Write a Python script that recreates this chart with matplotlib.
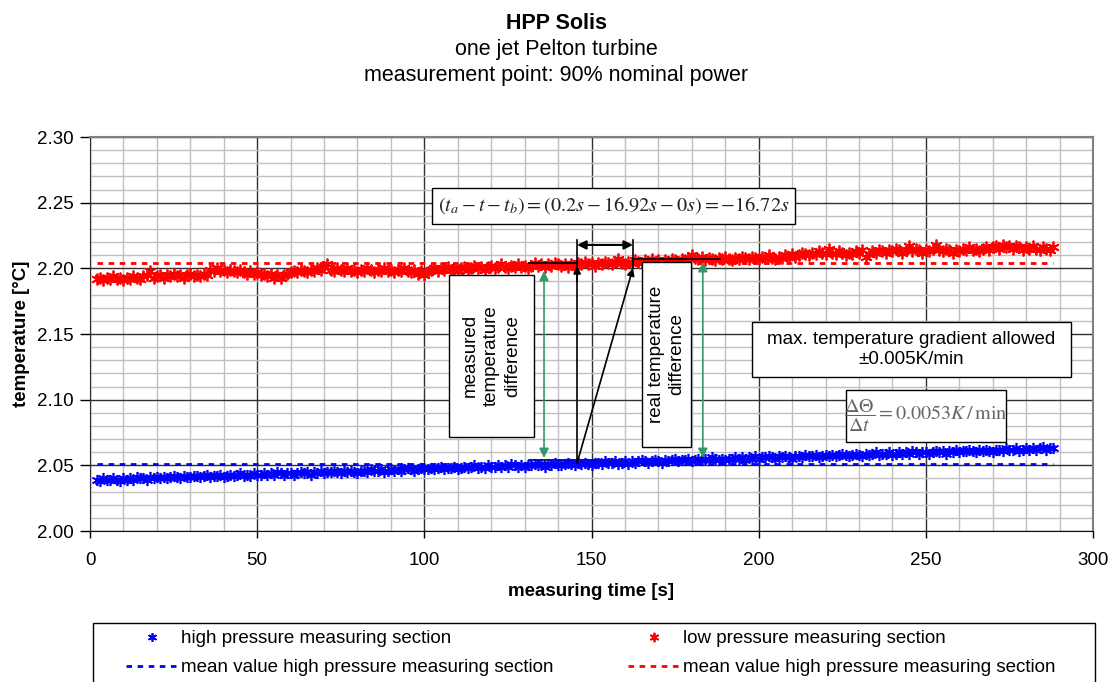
import matplotlib
matplotlib.use("Agg")
import matplotlib.pyplot as plt
import numpy as np
from matplotlib.patches import Rectangle

plt.rcParams['font.family'] = ['Liberation Sans', 'DejaVu Sans']
plt.rcParams['mathtext.fontset'] = 'stix'

# one reading per second, from 2 s to 288 s
tiempo = np.arange(2, 289)

# low pressure measuring section [°C]
baja = [2.192, 2.193, 2.191, 2.193, 2.192, 2.194, 2.192, 2.193, 2.191, 2.193,
        2.192, 2.194, 2.193, 2.192, 2.194, 2.195, 2.198, 2.193, 2.194, 2.195,
        2.193, 2.195, 2.194, 2.196, 2.194, 2.195, 2.193, 2.195, 2.196, 2.194,
        2.195, 2.194, 2.196, 2.195, 2.199, 2.198, 2.200, 2.198, 2.199, 2.197,
        2.199, 2.198, 2.197, 2.199, 2.197, 2.196, 2.198, 2.196, 2.197, 2.195,
        2.196, 2.194, 2.196, 2.193, 2.195, 2.193, 2.195, 2.196, 2.197, 2.198,
        2.197, 2.199, 2.198, 2.197, 2.199, 2.198, 2.200, 2.199, 2.201, 2.203,
        2.199, 2.198, 2.200, 2.199, 2.198, 2.200, 2.198, 2.199, 2.197, 2.199,
        2.198, 2.200, 2.199, 2.197, 2.199, 2.198, 2.200, 2.198, 2.199, 2.197,
        2.199, 2.198, 2.200, 2.198, 2.197, 2.199, 2.196, 2.198, 2.195, 2.197,
        2.199, 2.200, 2.198, 2.200, 2.199, 2.201, 2.199, 2.200, 2.198, 2.200,
        2.201, 2.199, 2.200, 2.202, 2.200, 2.201, 2.199, 2.201, 2.202, 2.200,
        2.201, 2.203, 2.201, 2.200, 2.202, 2.201, 2.203, 2.201, 2.202, 2.200,
        2.202, 2.204, 2.202, 2.203, 2.201, 2.203, 2.202, 2.204, 2.203, 2.202,
        2.203, 2.201, 2.203, 2.202, 2.204, 2.203, 2.205, 2.203, 2.204, 2.202,
        2.204, 2.203, 2.205, 2.204, 2.203, 2.205, 2.207, 2.204, 2.203, 2.205,
        2.204, 2.206, 2.205, 2.204, 2.206, 2.205, 2.207, 2.205, 2.206, 2.204,
        2.206, 2.205, 2.207, 2.206, 2.205, 2.207, 2.206, 2.208, 2.210, 2.208,
        2.207, 2.209, 2.206, 2.208, 2.207, 2.206, 2.208, 2.207, 2.209, 2.207,
        2.206, 2.208, 2.207, 2.209, 2.208, 2.207, 2.209, 2.208, 2.207, 2.209,
        2.208, 2.210, 2.208, 2.207, 2.209, 2.208, 2.210, 2.209, 2.211, 2.209,
        2.210, 2.212, 2.211, 2.210, 2.212, 2.211, 2.213, 2.212, 2.211, 2.215,
        2.212, 2.211, 2.213, 2.212, 2.210, 2.212, 2.211, 2.213, 2.212, 2.214,
        2.209, 2.211, 2.213, 2.212, 2.214, 2.213, 2.212, 2.214, 2.213, 2.215,
        2.214, 2.212, 2.214, 2.217, 2.213, 2.215, 2.214, 2.212, 2.214, 2.213,
        2.215, 2.218, 2.214, 2.213, 2.215, 2.214, 2.212, 2.214, 2.213, 2.215,
        2.214, 2.216, 2.214, 2.215, 2.213, 2.215, 2.216, 2.214, 2.216, 2.217,
        2.215, 2.218, 2.216, 2.217, 2.215, 2.217, 2.216, 2.214, 2.216, 2.215,
        2.217, 2.215, 2.214, 2.216, 2.215, 2.214, 2.216]

# high pressure measuring section [°C]
alta = [2.039, 2.038, 2.040, 2.039, 2.039, 2.040, 2.039, 2.038, 2.040, 2.039,
        2.040, 2.039, 2.041, 2.040, 2.040, 2.039, 2.041, 2.040, 2.041, 2.040,
        2.041, 2.040, 2.041, 2.042, 2.041, 2.040, 2.042, 2.041, 2.041, 2.042,
        2.042, 2.041, 2.042, 2.043, 2.041, 2.042, 2.042, 2.043, 2.041, 2.042,
        2.043, 2.042, 2.043, 2.044, 2.042, 2.043, 2.042, 2.044, 2.043, 2.043,
        2.044, 2.043, 2.044, 2.043, 2.045, 2.044, 2.043, 2.044, 2.044, 2.043,
        2.044, 2.045, 2.044, 2.045, 2.043, 2.045, 2.044, 2.046, 2.044, 2.045,
        2.045, 2.046, 2.045, 2.044, 2.046, 2.045, 2.046, 2.045, 2.044, 2.046,
        2.046, 2.045, 2.047, 2.046, 2.046, 2.047, 2.045, 2.046, 2.047, 2.046,
        2.047, 2.046, 2.047, 2.048, 2.047, 2.046, 2.047, 2.048, 2.047, 2.047,
        2.048, 2.047, 2.048, 2.049, 2.047, 2.048, 2.048, 2.049, 2.047, 2.048,
        2.049, 2.048, 2.049, 2.050, 2.048, 2.049, 2.048, 2.050, 2.049, 2.049,
        2.050, 2.049, 2.050, 2.049, 2.051, 2.050, 2.049, 2.050, 2.049, 2.050,
        2.050, 2.051, 2.050, 2.051, 2.049, 2.051, 2.050, 2.052, 2.050, 2.050,
        2.051, 2.052, 2.051, 2.050, 2.052, 2.051, 2.052, 2.051, 2.050, 2.052,
        2.052, 2.051, 2.053, 2.052, 2.052, 2.053, 2.051, 2.052, 2.053, 2.051,
        2.053, 2.052, 2.053, 2.054, 2.053, 2.052, 2.053, 2.054, 2.053, 2.052,
        2.054, 2.053, 2.054, 2.055, 2.053, 2.054, 2.054, 2.055, 2.053, 2.054,
        2.055, 2.054, 2.055, 2.054, 2.056, 2.055, 2.054, 2.055, 2.054, 2.055,
        2.055, 2.056, 2.055, 2.056, 2.054, 2.056, 2.055, 2.057, 2.055, 2.056,
        2.056, 2.057, 2.056, 2.055, 2.057, 2.056, 2.057, 2.056, 2.055, 2.057,
        2.057, 2.056, 2.058, 2.057, 2.057, 2.058, 2.056, 2.057, 2.058, 2.057,
        2.058, 2.057, 2.058, 2.059, 2.058, 2.057, 2.058, 2.059, 2.058, 2.057,
        2.059, 2.058, 2.059, 2.060, 2.058, 2.059, 2.059, 2.060, 2.058, 2.059,
        2.060, 2.059, 2.060, 2.059, 2.061, 2.060, 2.059, 2.060, 2.060, 2.059,
        2.060, 2.061, 2.060, 2.061, 2.059, 2.061, 2.060, 2.062, 2.060, 2.061,
        2.061, 2.062, 2.061, 2.060, 2.062, 2.061, 2.062, 2.061, 2.060, 2.062,
        2.062, 2.061, 2.063, 2.062, 2.062, 2.063, 2.061, 2.062, 2.063, 2.062,
        2.063, 2.062, 2.063, 2.064, 2.062, 2.063, 2.063]

media_alta = 2.051
media_baja = 2.204

asterisco = (6, 2, 0)  # Excel star marker
verde = '#339966'
fs = 13.5

fig = plt.figure(figsize=(11.13, 6.82), dpi=100)
ax = fig.add_axes([90 / 1113, 1 - 531 / 682, 1003 / 1113, 394 / 682])

ax.plot(tiempo, alta, ls='none', marker=asterisco, ms=8, mew=1.2, color='#0000ff',
        label='high pressure measuring section', zorder=4)
ax.plot(tiempo, baja, ls='none', marker=asterisco, ms=8.5, mew=1.3, color='#ff0000',
        label='low pressure measuring section', zorder=4)
ax.plot([tiempo[0], tiempo[-1]], [media_alta, media_alta], ls=(0, (2, 2)), lw=2,
        color='#0000ff', label='mean value high pressure measuring section', zorder=3)
ax.plot([tiempo[0], tiempo[-1]], [media_baja, media_baja], ls=(0, (2, 2)), lw=2,
        color='#ff0000', label='mean value high pressure measuring section', zorder=3)

ax.set_xlim(0, 300)
ax.set_ylim(2.0, 2.3)
ax.set_xticks(np.arange(0, 301, 50))
ax.set_xticks(np.arange(0, 301, 10), minor=True)
ax.set_yticks(np.arange(2.0, 2.301, 0.05))
ax.set_yticks(np.arange(2.0, 2.301, 0.01), minor=True)
ax.set_yticklabels(['%.2f' % v for v in np.arange(2.0, 2.301, 0.05)])
ax.grid(which='minor', color='#c0c0c0', lw=1, zorder=0)
ax.grid(which='major', color='#303030', lw=1, zorder=0)
ax.tick_params(which='minor', length=0)
ax.tick_params(axis='y', which='major', length=7, width=1, pad=5, labelsize=fs)
ax.tick_params(axis='x', which='major', length=5, width=1, pad=10, labelsize=fs)
ax.set_axisbelow(True)
for lado in ['top', 'right']:
    ax.spines[lado].set_color('#808080')
    ax.spines[lado].set_linewidth(1.5)
ax.spines['left'].set_color('#303030')
ax.spines['bottom'].set_color('#101010')

ax.set_xlabel('measuring time [s]', fontsize=fs, fontweight='bold', labelpad=10)
ax.set_ylabel('temperature [°C]', fontsize=fs, fontweight='bold', labelpad=5)

fig.text(0.5, 1 - 29 / 682, 'HPP Solis', ha='center', va='baseline', fontsize=15.5, fontweight='bold')
fig.text(0.5, 1 - 55 / 682, 'one jet Pelton turbine', ha='center', va='baseline', fontsize=15.5)
fig.text(0.5, 1 - 81 / 682, 'measurement point: 90% nominal power', ha='center', va='baseline', fontsize=15.5)

# annotation boxes
def caja(x0, y0, x1, y1):
    ax.add_patch(Rectangle((x0, y0), x1 - x0, y1 - y0, fc='white', ec='black', lw=1, zorder=5))

caja(102.3, 2.2338, 210.9, 2.2612)
ax.text(156.6, 2.2475, r'$\left(t_a - t - t_b\right) = \left(0.2s - 16.92s - 0s\right) = -16.72s$',
        ha='center', va='center', fontsize=14.6, color='#222222', zorder=6)

caja(107.4, 2.0716, 132.8, 2.1949)
ax.text(120.1, 2.1333, 'measured\ntemperature\ndifference', rotation=90, ha='center', va='center',
        fontsize=fs, linespacing=1.3, zorder=6)

caja(165.1, 2.0640, 179.8, 2.2048)
ax.text(172.5, 2.1344, 'real temperature\ndifference', rotation=90, ha='center', va='center',
        fontsize=fs, linespacing=1.25, zorder=6)

caja(198.0, 2.1173, 293.4, 2.1591)
ax.text(245.7, 2.1382, 'max. temperature gradient allowed\n±0.005K/min', ha='center', va='center',
        fontsize=fs, linespacing=1.3, zorder=6)

caja(226.1, 2.0678, 274.0, 2.1074)
ax.text(250.0, 2.0876, r'$\dfrac{\Delta\Theta}{\Delta t} = 0.0053K\,/\,\mathrm{min}$', ha='center',
        va='center', fontsize=14.5, color='#666666', zorder=6)

# reference lines and arrows
ax.plot([131.2, 145.7], [2.2041, 2.2041], color='black', lw=1.2, zorder=7)
ax.plot([162.4, 188.5], [2.2069, 2.2069], color='black', lw=1.2, zorder=7)
ax.plot([131.2, 161.0], [2.0538, 2.0538], color='black', lw=1.2, zorder=3)
ax.plot([179.5, 200.0], [2.0556, 2.0556], color='#808080', lw=1.2, zorder=3)
ax.plot([145.7, 145.7], [2.0518, 2.2216], color='black', lw=1.2, zorder=7)
ax.plot([162.4, 162.4], [2.2002, 2.2216], color='black', lw=1.2, zorder=7)
flecha = dict(arrowstyle='-|>', color='black', lw=1.2, mutation_scale=11, shrinkA=0, shrinkB=0)
ax.annotate('', xy=(145.7, 2.2018), xytext=(145.7, 2.1900), arrowprops=flecha, zorder=7)
ax.annotate('', xy=(162.4, 2.2002), xytext=(145.7, 2.0518), arrowprops=flecha, zorder=7)
ax.annotate('', xy=(162.4, 2.2178), xytext=(145.7, 2.2178),
            arrowprops=dict(arrowstyle='<|-|>', color='black', lw=1.5, mutation_scale=13,
                            shrinkA=0, shrinkB=0), zorder=7)
doble = dict(arrowstyle='<|-|>', color=verde, lw=1.2, mutation_scale=14, shrinkA=0, shrinkB=0)
ax.annotate('', xy=(135.8, 2.1980), xytext=(135.8, 2.0556), arrowprops=doble, zorder=7)
ax.annotate('', xy=(183.3, 2.2048), xytext=(183.3, 2.0556), arrowprops=doble, zorder=7)

# legend box, clipped at the bottom of the picture like the original
fig.patches.append(Rectangle((93 / 1113, -0.05), 1002 / 1113, 0.05 + 59 / 682, transform=fig.transFigure,
                             fc='white', ec='black', lw=1))
h, l = ax.get_legend_handles_labels()
orden = [0, 2, 1, 3]
fig.legend([h[i] for i in orden], [l[i] for i in orden], ncol=2, frameon=False,
           loc='upper left', bbox_to_anchor=(126 / 1113, 1 - 630 / 682),
           fontsize=fs, handlelength=2.8, handletextpad=0.15, columnspacing=3.95,
           labelspacing=0.65, borderpad=0, borderaxespad=0, markerscale=0.8)

fig.savefig('out.png', dpi=100)
